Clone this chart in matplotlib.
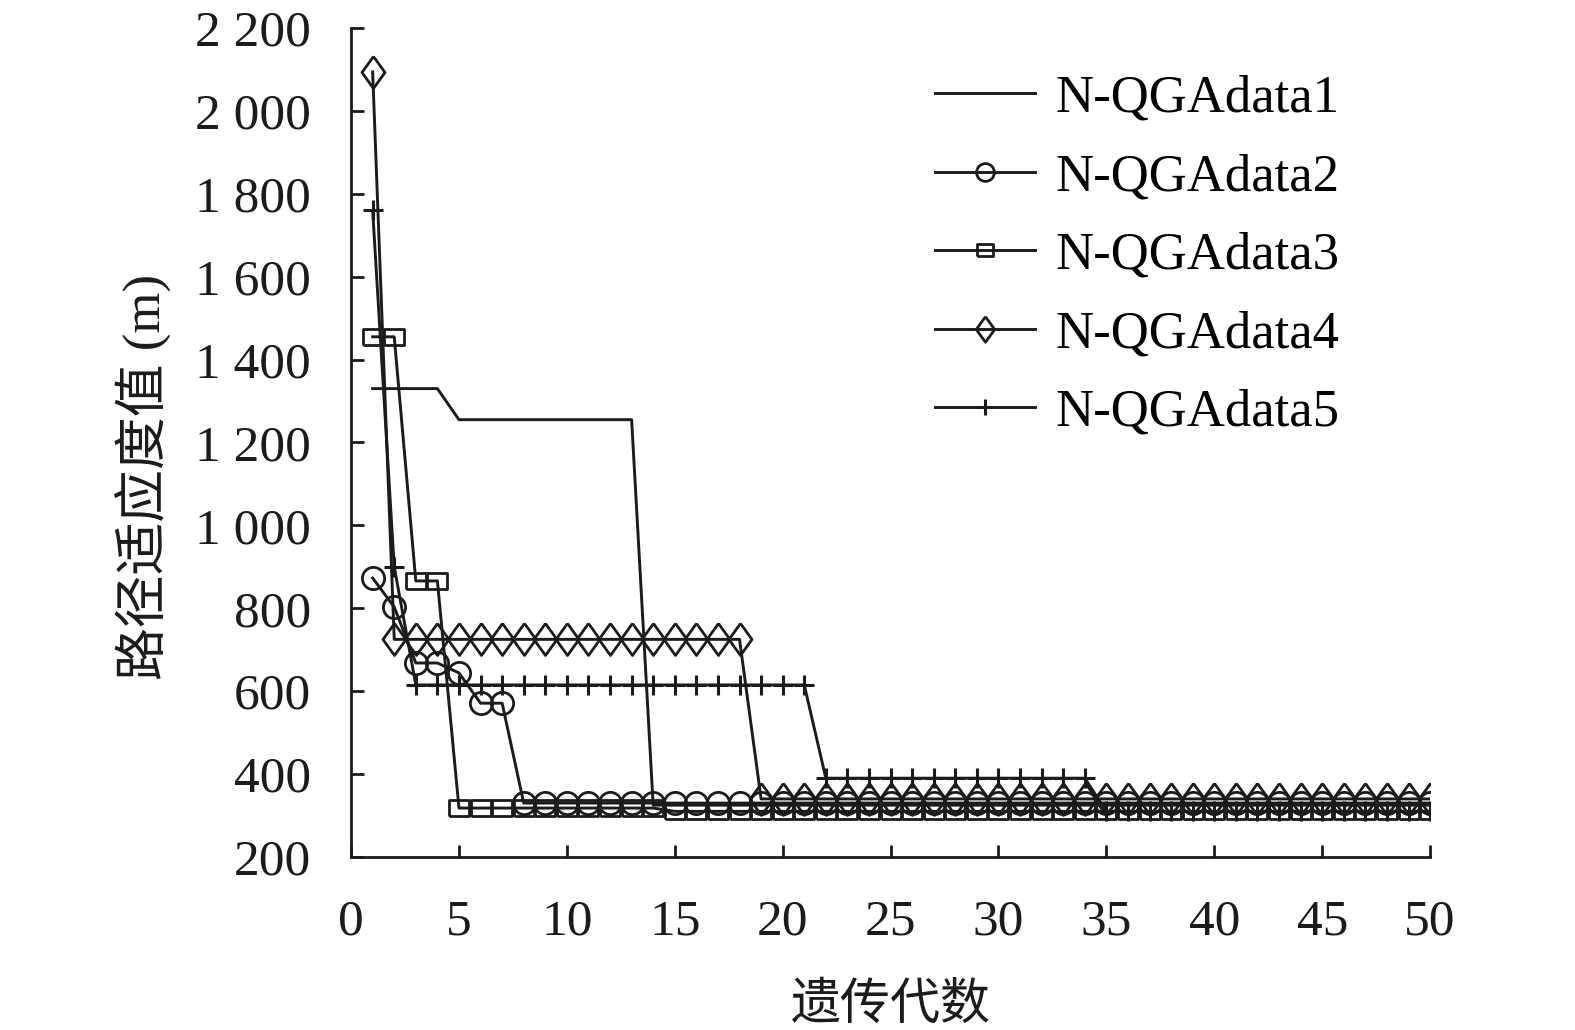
import numpy as np
import matplotlib
matplotlib.use("Agg")
import matplotlib.pyplot as plt
from matplotlib.ticker import FuncFormatter

# ── Data ─────────────────────────────────────────────────────────────────────
generations = list(range(1, 51))

data1 = [1330, 1330, 1330, 1330] + [1255] * 9 + [325] * 37
data2 = [873, 803, 668, 668, 644, 571, 571] + [330] * 43
data3 = [1455, 1455, 866, 866] + [318] * 10 + [310] * 36
data4 = [2094] + [725] * 17 + [340] * 32
data5 = [1760, 900] + [615] * 19 + [390] * 13 + [310] * 16

labels = ["N-QGAdata1", "N-QGAdata2", "N-QGAdata3", "N-QGAdata4", "N-QGAdata5"]

# ── Style ────────────────────────────────────────────────────────────────────
INK = "#1c1a1b"
SERIF = ["Liberation Serif", "Noto Sans CJK SC", "DejaVu Sans"]
plt.rcParams["font.family"] = SERIF

diamond = [(0, 1), (0.72, 0), (0, -1), (-0.72, 0), (0, 1)]
rect = [(-1, -0.82), (1, -0.82), (1, 0.82), (-1, 0.82), (-1, -0.82)]

series = [
    (data1, dict(marker=None)),
    (data2, dict(marker="o", markersize=16)),
    (data3, dict(marker=rect, markersize=14)),
    (data4, dict(marker=diamond, markersize=23)),
    (data5, dict(marker="+", markersize=15, markeredgewidth=2.2)),
]

fig = plt.figure(figsize=(15.75, 10.3), dpi=100)
ax = fig.add_axes([0.2229, 0.168, 0.908 - 0.2229, 0.9728 - 0.168])

for (vals, kw), lab in zip(series, labels):
    opts = dict(color=INK, linewidth=2.1, markerfacecolor="none",
                markeredgecolor=INK, markeredgewidth=2.0)
    opts.update(kw)
    ax.plot(generations, vals, label=lab, **opts)

ax.set_xlim(0, 50)
ax.set_ylim(200, 2200)
ax.set_xticks(np.arange(0, 51, 5))
ax.set_yticks(np.arange(200, 2201, 200))
ax.yaxis.set_major_formatter(
    FuncFormatter(lambda v, p: f"{int(v):,}".replace(",", " ")))

for side in ["top", "right"]:
    ax.spines[side].set_visible(False)
for side in ["left", "bottom"]:
    ax.spines[side].set_linewidth(2.0)
    ax.spines[side].set_color(INK)

ax.tick_params(direction="in", length=9, width=2.0, colors=INK, labelsize=37)
ax.tick_params(axis="y", pad=29)
ax.tick_params(axis="x", pad=30)

ax.set_xlabel("遗传代数", fontsize=36, color=INK, labelpad=24,
              family=["Noto Sans CJK SC", "DejaVu Sans"])
ax.set_ylabel("路径适应度值 (m)", fontsize=38, color=INK, family=SERIF)
ax.yaxis.set_label_coords(-0.166, 0.458)

ax.legend(loc="upper left", bbox_to_anchor=(0.541, 0.944), frameon=False,
          fontsize=38, handlelength=1.9, handletextpad=0.38,
          labelspacing=0.58, markerscale=0.8, borderaxespad=0, borderpad=0)

fig.savefig("out.png", dpi=100)
